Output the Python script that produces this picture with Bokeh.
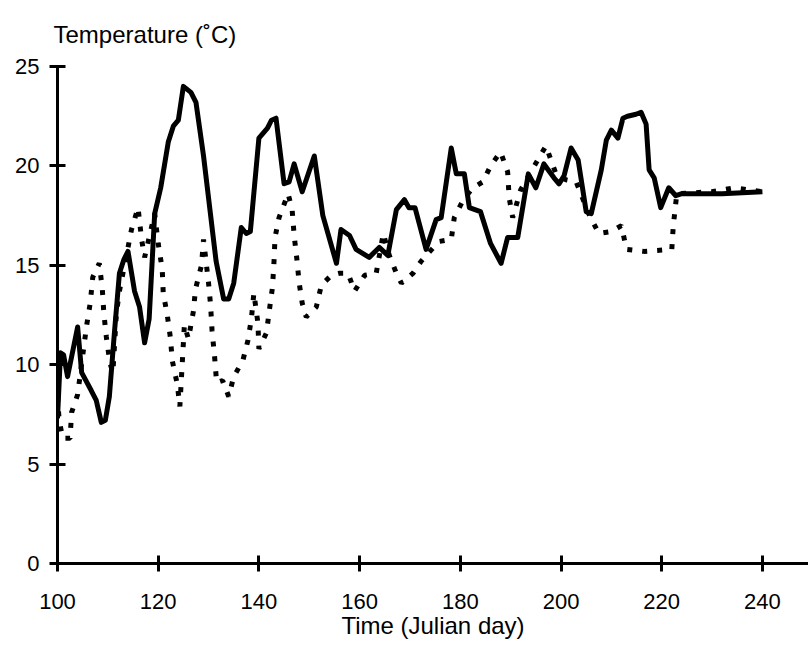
from bokeh.plotting import figure
from bokeh.models import Range1d, FixedTicker
from bokeh.embed import file_html
from bokeh.resources import INLINE

# Solid series (day, temperature)
solid_day = [100, 100.6, 101.2, 102, 104, 104.8, 106.7, 107.7, 108.7, 109.5, 110.3, 111.3, 112.3,
             113.2, 114, 115.3, 116.3, 117.3, 118.2, 119.3, 120.5, 122, 123, 124, 125, 126.5,
             127.5, 129, 131.5, 133, 134, 135, 136.5, 137.5, 138.3, 140, 141.7, 142.5, 143.4,
             145, 146, 147, 148.6, 151, 152.7, 155.4, 156.3, 158, 159.3, 161.9, 163.9, 165.6,
             167.3, 168.9, 169.8, 171, 173.2, 175.2, 176.2, 178.2, 179.2, 180.8, 181.8, 184,
             186, 188.1, 189.4, 191.4, 193.5, 195, 196.6, 198.6, 199.6, 200.6, 202, 203.4, 205,
             206, 208, 209, 210, 211.3, 212.3, 213.2, 214.9, 215.9, 216.9, 217.5, 218.5, 219.8,
             221.4, 222.8, 224, 232, 240]
solid_temp = [7.3, 10.6, 10.5, 9.4, 11.9, 9.6, 8.7, 8.2, 7.1, 7.2, 8.4, 11.6, 14.6,
              15.3, 15.7, 13.7, 12.9, 11.1, 12.3, 17.6, 18.9, 21.2, 22.0, 22.3, 24.0, 23.7,
              23.2, 20.5, 15.2, 13.3, 13.3, 14.1, 16.9, 16.6, 16.7, 21.4, 21.9, 22.3, 22.4,
              19.1, 19.2, 20.1, 18.7, 20.5, 17.5, 15.1, 16.8, 16.5, 15.8, 15.4, 15.9, 15.5,
              17.8, 18.3, 17.9, 17.9, 15.8, 17.3, 17.4, 20.9, 19.6, 19.6, 17.9, 17.7,
              16.1, 15.1, 16.4, 16.4, 19.6, 18.9, 20.1, 19.4, 19.1, 19.5, 20.9, 20.3, 17.7,
              17.6, 19.8, 21.3, 21.8, 21.4, 22.4, 22.5, 22.6, 22.7, 22.1, 19.8, 19.4, 17.9,
              18.9, 18.5, 18.6, 18.6, 18.7]

# Dotted series (day, temperature)
dot_day = [100, 100.3, 101, 102.5, 102.8, 104, 105.8, 106.5, 107, 108.3, 108.9, 109.2, 109.7,
           110.4, 111, 111.7, 112.3, 114.7, 116, 116.7, 117.3, 119.3, 120, 120.8, 121, 121.8,
           122.4, 122.8, 123.8, 124.3, 125.2, 126, 127, 127.4, 128.6, 129, 130, 130.4, 130.7,
           131.2, 131.6, 132.8, 134, 135, 136.8, 137.8, 138.5, 139, 139.8, 140, 141.5, 142,
           142.7, 143, 143.2, 144, 145.8, 146.6, 147, 147.5, 148, 148.6, 149.4, 151.4, 152.4,
           154.4, 156, 157.7, 159, 161, 163.3, 164.7, 165.9, 167.3, 168.3, 170.6, 172.2, 173.6,
           175.8, 178.2, 178.8, 180.6, 182.5, 184.5, 186, 188, 189.4, 189.7, 190.4, 192, 194,
           197, 199, 201, 203, 205.5, 207.5, 210, 212, 213, 216.5, 222, 222.3, 223, 230,
           234.4, 240]
dot_temp = [8.4, 7.3, 6.3, 6.3, 7.6, 8.5, 12.0, 13.1, 14.4, 15.1, 13.8, 12.6, 11.4,
            10.1, 9.6, 12.6, 13.7, 16.8, 17.9, 16.3, 15.4, 17.6, 16.1, 14.8, 13.6, 12.5,
            11.4, 10.2, 9.0, 7.9, 12.0, 11.3, 12.7, 13.8, 15.0, 16.3, 14.1, 13.0, 11.7,
            10.4, 9.1, 9.2, 8.4, 9.4, 10.2, 11.2, 12.3, 13.6, 12.1, 10.8, 11.6, 12.6,
            13.9, 15.2, 16.4, 17.4, 18.6, 17.8, 16.5, 15.4, 14.1, 13.1, 12.4, 12.9, 14.0,
            14.5, 14.6, 14.6, 13.7, 14.5, 14.6, 16.6, 15.5, 14.6, 14.1, 14.6, 15.2, 15.6,
            16.2, 16.3, 17.4, 18.3, 18.9, 19.2, 20.0, 20.7, 19.7, 18.4, 17.4, 18.8, 19.7,
            21.0, 19.6, 19.3, 19.2, 17.6, 16.6, 16.7, 17.0, 15.8, 15.7, 15.8, 17.0, 18.6, 18.7,
            18.9, 18.7]

x_ticks = [100, 120, 140, 160, 180, 200, 220, 240]
y_ticks = [0, 5, 10, 15, 20, 25]
y_title = "Temperature (˚C)"
x_title = "Time (Julian day)"

FONT = "Liberation Sans"

p = figure(width=808, height=655, output_backend="svg", toolbar_location=None,
           x_range=Range1d(100, 249.15), y_range=Range1d(0, 25),
           min_border_left=57, min_border_right=0, min_border_top=66, min_border_bottom=92)
p.outline_line_color = None
p.grid.visible = False
p.background_fill_color = "white"
p.border_fill_color = "white"

p.title.text = y_title
p.title.align = "left"
p.title.offset = -4
p.title.vertical_align = "middle"
p.title.text_font = FONT
p.title.text_font_size = "24px"
p.title.text_font_style = "normal"
p.title.text_color = "black"
p.title.standoff = 35

p.line(dot_day, dot_temp, line_color="black", line_width=5, line_dash="5 10")
p.line(solid_day, solid_temp, line_color="black", line_width=5, line_join="round")

for ax in (p.xaxis[0], p.yaxis[0]):
    ax.axis_line_width = 3
    ax.axis_line_color = "black"
    ax.major_tick_line_width = 3
    ax.major_tick_line_color = "black"
    ax.major_tick_in = 8
    ax.major_tick_out = 8
    ax.minor_tick_line_color = None
    ax.major_label_text_font = FONT
    ax.major_label_text_font_size = "22px"
    ax.major_label_text_color = "black"

p.xaxis[0].ticker = FixedTicker(ticks=x_ticks)
p.yaxis[0].ticker = FixedTicker(ticks=y_ticks)
p.xaxis[0].major_label_standoff = 22
p.yaxis[0].major_label_standoff = 10

p.xaxis[0].axis_label = x_title
p.xaxis[0].axis_label_text_font = FONT
p.xaxis[0].axis_label_text_font_size = "24px"
p.xaxis[0].axis_label_text_font_style = "normal"
p.xaxis[0].axis_label_text_color = "black"
p.xaxis[0].axis_label_standoff = 0

open("out.html", "w").write(file_html(p, INLINE))
